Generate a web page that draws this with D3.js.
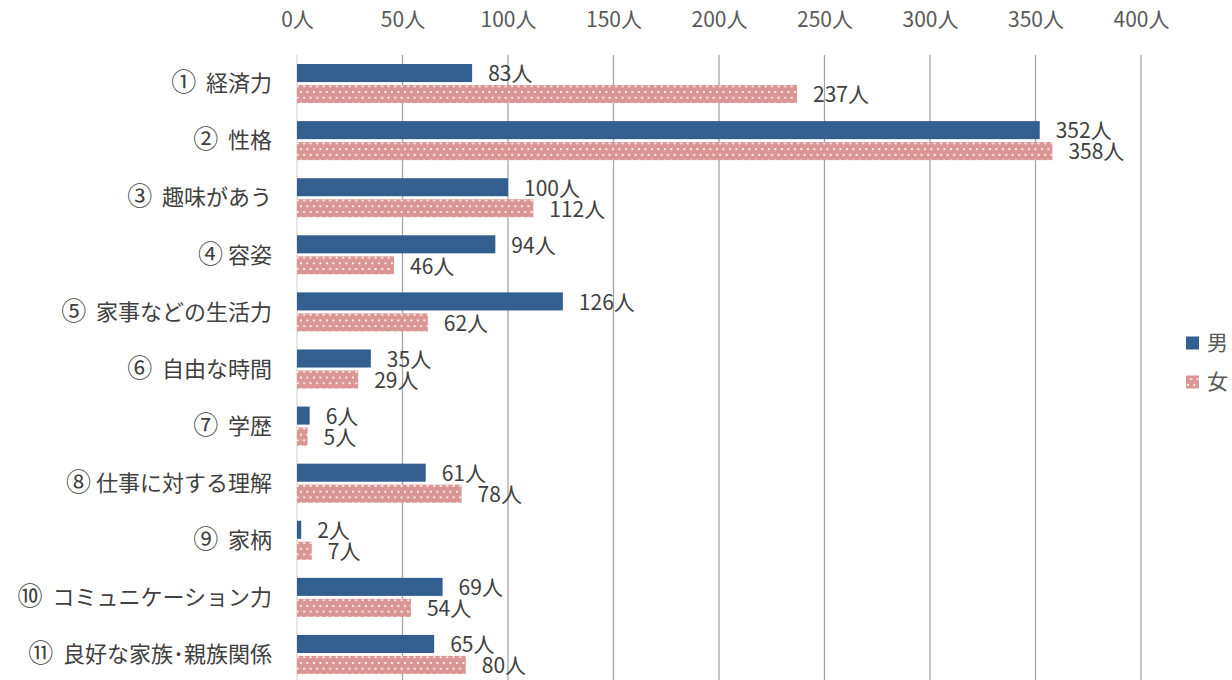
<!DOCTYPE html>
<html>
<head>
<meta charset="utf-8">
<script src="https://d3js.org/d3.v7.min.js"></script>
<style>
  body { margin: 0; background: #fff; }
  svg { font-family: "Noto Sans CJK JP", "Noto Sans", sans-serif; }
</style>
</head>
<body>
<svg width="1232" height="680"></svg>
<script>
var categories = ["①  経済力", "②  性格", "③  趣味があう", "④ 容姿", "⑤  家事などの生活力",
  "⑥  自由な時間", "⑦  学歴", "⑧ 仕事に対する理解", "⑨  家柄", "⑩  コミュニケーション力", "⑪  良好な家族･親族関係"];
var male = [83, 352, 100, 94, 126, 35, 6, 61, 2, 69, 65];
var female = [237, 358, 112, 46, 62, 29, 5, 78, 7, 54, 80];
var series = ["男", "女"];
var ticks = [0, 50, 100, 150, 200, 250, 300, 350, 400];

var svg = d3.select("svg");
var plotLeft = 297, plotRight = 1141, plotTop = 55, plotBottom = 683;

var x = d3.scaleLinear().domain([0, 400]).range([plotLeft, plotRight]);
var y = d3.scaleBand().domain(categories).range([plotTop, plotBottom]);
var inner = d3.scaleBand().domain(series).range([0, y.bandwidth()]).paddingOuter(0.43).paddingInner(0.14);

var defs = svg.append("defs");
var pat = defs.append("pattern").attr("id", "dots").attr("patternUnits", "userSpaceOnUse")
  .attr("width", 6.5).attr("height", 11.4);
pat.append("rect").attr("width", 6.5).attr("height", 11.4).attr("fill", "#da9694");
pat.append("rect").attr("x", 1).attr("y", 2).attr("width", 1.8).attr("height", 1.8).attr("fill", "#fff");
pat.append("rect").attr("x", 4.25).attr("y", 7.7).attr("width", 1.8).attr("height", 1.8).attr("fill", "#fff");

var colors = { "男": "#335e90", "女": "url(#dots)" };

// grid
svg.append("g").selectAll("line").data(ticks).enter().append("line")
  .attr("x1", d => x(d)).attr("x2", d => x(d))
  .attr("y1", plotTop).attr("y2", plotBottom)
  .attr("stroke", d => d === 0 ? "#d9d9d9" : "#a6a6a6").attr("stroke-width", 1.3);

// top axis labels
var axis = d3.axisTop(x).tickValues(ticks).tickSize(0).tickFormat(d => d + "人");
var ag = svg.append("g").attr("transform", "translate(0,30)").call(axis);
ag.select(".domain").remove();
ag.selectAll("text").attr("fill", "#595959").attr("font-size", 21).attr("dy", "0")
  .attr("font-family", "'Noto Sans CJK JP', sans-serif");

// category labels (circled number drawn a bit larger, as in the original)
var cl = svg.append("g").selectAll("text").data(categories).enter().append("text")
  .attr("x", 272).attr("y", d => y(d) + y.bandwidth() / 2)
  .attr("dy", "0.35em").attr("text-anchor", "end")
  .attr("fill", "#404040").attr("font-size", 22)
  .style("white-space", "pre");
cl.append("tspan").attr("font-size", 25).text(d => d.slice(0, 1));
cl.append("tspan").text(d => d.slice(1));

var rows = categories.map((c, i) => ({ c: c, vals: [{ s: "男", v: male[i] }, { s: "女", v: female[i] }] }));
var g = svg.append("g").selectAll("g").data(rows).enter().append("g")
  .attr("transform", d => "translate(0," + y(d.c) + ")");

g.selectAll("rect").data(d => d.vals).enter().append("rect")
  .attr("x", x(0)).attr("y", d => inner(d.s))
  .attr("width", d => x(d.v) - x(0)).attr("height", inner.bandwidth())
  .attr("fill", d => colors[d.s]);

g.selectAll("text").data(d => d.vals).enter().append("text")
  .attr("x", d => x(d.v) + 16).attr("y", d => inner(d.s) + inner.bandwidth() / 2 + 1)
  .attr("dy", "0.35em").attr("fill", "#404040").attr("font-size", 21)
  .text(d => d.v + "人");

// legend
var lg = svg.append("g").selectAll("g").data(series).enter().append("g")
  .attr("transform", (d, i) => "translate(1186," + (343 + i * 39) + ")");
lg.append("rect").attr("x", 0).attr("y", -6.5).attr("width", 13).attr("height", 13)
  .attr("fill", d => colors[d]);
lg.append("text").attr("x", 21).attr("dy", "0.35em").attr("font-size", 21)
  .attr("fill", "#595959").text(d => d);
</script>
</body>
</html>
